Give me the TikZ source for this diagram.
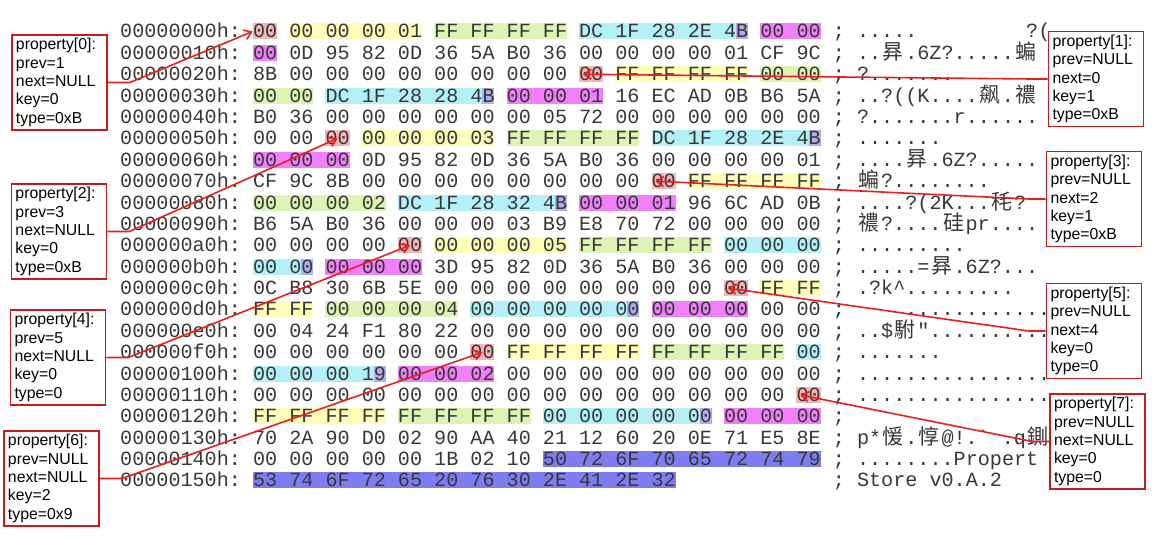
\documentclass[tikz,border=0pt]{standalone}
\usepackage{fontspec}
\setmonofont{Liberation Mono}
\newfontfamily\boxfont{Liberation Sans}
\newfontfamily\zhfont{Noto Sans CJK SC}
\usetikzlibrary{arrows.meta}
\frenchspacing

\definecolor{salmonhl}{RGB}{245,182,182}
\definecolor{yellowhl}{RGB}{255,255,185}
\definecolor{greenhl}{RGB}{220,245,180}
\definecolor{cyanhl}{RGB}{180,240,248}
\definecolor{lavhl}{RGB}{175,175,240}
\definecolor{magentahl}{RGB}{240,128,250}
\definecolor{stringhl}{RGB}{125,125,240}
\definecolor{hexgray}{RGB}{55,55,55}
\definecolor{arrowred}{RGB}{235,30,30}
\definecolor{boxred}{RGB}{205,25,25}

\tikzset{
  hexline/.style={anchor=base west, inner sep=0pt, text=hexgray,
    font=\ttfamily\fontsize{20.13}{22}\selectfont},
  salmonbyte/.style={fill=salmonhl, minimum width=24.16pt, minimum height=16pt, inner sep=0pt},
  propbox/.style={draw=boxred, line width=1.6pt, fill=white, align=left,
    text width=87pt, inner xsep=4pt, inner ysep=0pt, minimum height=95pt,
    font=\boxfont\fontsize{15.8}{18.3}\selectfont},
  redarrow/.style={draw=arrowred, line width=1.6pt, -{Straight Barb[length=7pt,width=10pt]}}
}

\newcommand\zh[1]{\hspace{1.5pt}{\zhfont\fontsize{21}{21}\selectfont #1}\hspace{1.6pt}}
% band over bytes #3..#4 of row #2
\newcommand\hl[4]{\fill[#1] ({120+12.08*(11+3*#3)},{23.5+21.38*#2}) rectangle ({120+12.08*(13+3*#4)},{39.5+21.38*#2});}
\newcommand\hlc[3]{\hl{cyanhl}{#1}{#2}{#3}%
  \fill[lavhl] ({120+12.08*(12+3*#3)},{23.5+21.38*#1}) rectangle ({120+12.08*(13+3*#3)},{39.5+21.38*#1});}
\newcommand\slot[3]{\node[salmonbyte] (#1) at ({264.96+36.24*#3},{31.5+21.38*#2}) {};}
\newcommand\hexrow[3]{\node[hexline] (r#1) at (120,{38+21.38*#1}) {#2};
  \node[hexline] (a#1) at (832.7,{38+21.38*#1}) {;~#3};}

\begin{document}
\begin{tikzpicture}[x=1pt,y=-1pt]
\useasboundingbox (0,0) rectangle (1159,543);

% property records
\hl{yellowhl}{0}{1}{4} \hl{greenhl}{0}{5}{8} \hlc{0}{9}{13} \hl{magentahl}{0}{14}{15} \hl{magentahl}{1}{0}{0}
\hl{yellowhl}{2}{10}{13} \hl{greenhl}{2}{14}{15} \hl{greenhl}{3}{0}{1} \hlc{3}{2}{6} \hl{magentahl}{3}{7}{9}
\hl{yellowhl}{5}{3}{6} \hl{greenhl}{5}{7}{10} \hlc{5}{11}{15} \hl{magentahl}{6}{0}{2}
\hl{yellowhl}{7}{12}{15} \hl{greenhl}{8}{0}{3} \hlc{8}{4}{8} \hl{magentahl}{8}{9}{11}
\hl{yellowhl}{10}{5}{8} \hl{greenhl}{10}{9}{12} \hl{cyanhl}{10}{13}{15} \hlc{11}{0}{1} \hl{magentahl}{11}{2}{4}
\hl{yellowhl}{12}{14}{15} \hl{yellowhl}{13}{0}{1} \hl{greenhl}{13}{2}{5} \hlc{13}{6}{10} \hl{magentahl}{13}{11}{13}
\hl{yellowhl}{15}{7}{10} \hl{greenhl}{15}{11}{14} \hl{cyanhl}{15}{15}{15} \hlc{16}{0}{3} \hl{magentahl}{16}{4}{6}
\hl{yellowhl}{18}{0}{3} \hl{greenhl}{18}{4}{7} \hlc{18}{8}{12} \hl{magentahl}{18}{13}{15}
\hl{stringhl}{20}{8}{15} \hl{stringhl}{21}{0}{11}

\slot{s0}{0}{0}
\slot{s1}{2}{9}
\slot{s2}{5}{2}
\slot{s3}{7}{11}
\slot{s4}{10}{4}
\slot{s5}{12}{13}
\slot{s6}{15}{6}
\slot{s7}{17}{15}

% dump
\hexrow{0}{00000000h: 00 00 00 00 01 FF FF FF FF DC 1F 28 2E 4B 00 00}{.....~~~~~~~~~?(}
\hexrow{1}{00000010h: 00 0D 95 82 0D 36 5A B0 36 00 00 00 00 01 CF 9C}{..\zh{昪}.6Z?.....\zh{蝙}}
\hexrow{2}{00000020h: 8B 00 00 00 00 00 00 00 00 00 FF FF FF FF 00 00}{?.......}
\hexrow{3}{00000030h: 00 00 DC 1F 28 28 4B 00 00 01 16 EC AD 0B B6 5A}{..?((K....\zh{飙}.\zh{禯}}
\hexrow{4}{00000040h: B0 36 00 00 00 00 00 00 05 72 00 00 00 00 00 00}{?.......r......}
\hexrow{5}{00000050h: 00 00 00 00 00 00 03 FF FF FF FF DC 1F 28 2E 4B}{.......}
\hexrow{6}{00000060h: 00 00 00 0D 95 82 0D 36 5A B0 36 00 00 00 00 01}{....\zh{昪}.6Z?.....}
\hexrow{7}{00000070h: CF 9C 8B 00 00 00 00 00 00 00 00 00 FF FF FF FF}{\zh{蝙}?........}
\hexrow{8}{00000080h: 00 00 00 02 DC 1F 28 32 4B 00 00 01 96 6C AD 0B}{....?(2K...\zh{秏}?}
\hexrow{9}{00000090h: B6 5A B0 36 00 00 00 03 B9 E8 70 72 00 00 00 00}{\zh{禯}?....\zh{硅}pr....}
\hexrow{10}{000000a0h: 00 00 00 00 00 00 00 00 05 FF FF FF FF 00 00 00}{.........}
\hexrow{11}{000000b0h: 00 00 00 00 00 3D 95 82 0D 36 5A B0 36 00 00 00}{.....=\zh{昪}.6Z?...}
\hexrow{12}{000000c0h: 0C B8 30 6B 5E 00 00 00 00 00 00 00 00 00 FF FF}{.?k\textasciicircum.........}
\hexrow{13}{000000d0h: FF FF 00 00 00 04 00 00 00 00 00 00 00 00 00 00}{~~~~............}
\hexrow{14}{000000e0h: 00 04 24 F1 80 22 00 00 00 00 00 00 00 00 00 00}{..\$\zh{駙}"..........}
\hexrow{15}{000000f0h: 00 00 00 00 00 00 00 FF FF FF FF FF FF FF FF 00}{.......}
\hexrow{16}{00000100h: 00 00 00 19 00 00 02 00 00 00 00 00 00 00 00 00}{................}
\hexrow{17}{00000110h: 00 00 00 00 00 00 00 00 00 00 00 00 00 00 00 00}{................}
\hexrow{18}{00000120h: FF FF FF FF FF FF FF FF 00 00 00 00 00 00 00 00}{}
\hexrow{19}{00000130h: 70 2A 90 D0 02 90 AA 40 21 12 60 20 0E 71 E5 8E}{p*\zh{愋}.\zh{惇}@!.`~.q\zh{鍘}}
\hexrow{20}{00000140h: 00 00 00 00 00 1B 02 10 50 72 6F 70 65 72 74 79}{........Propert}
\hexrow{21}{00000150h: 53 74 6F 72 65 20 76 30 2E 41 2E 32}{Store v0.A.2}

% boxes
\node[propbox] (p0) at (59.5,82.5) {property[0]:\\prev=1\\next=NULL\\key=0\\type=0xB};
\node[propbox] (p1) at (1096,79) {property[1]:\\prev=NULL\\next=0\\key=1\\type=0xB};
\node[propbox] (p2) at (59,231.5) {property[2]:\\prev=3\\next=NULL\\key=0\\type=0xB};
\node[propbox] (p3) at (1094,199) {property[3]:\\prev=NULL\\next=2\\key=1\\type=0xB};
\node[propbox] (p4) at (58,357.5) {property[4]:\\prev=5\\next=NULL\\key=0\\type=0};
\node[propbox] (p5) at (1094,331) {property[5]:\\prev=NULL\\next=4\\key=0\\type=0};
\node[propbox] (p6) at (51.5,478.5) {property[6]:\\prev=NULL\\next=NULL\\key=2\\type=0x9};
\node[propbox] (p7) at (1097.5,441.5) {property[7]:\\prev=NULL\\next=NULL\\key=0\\type=0};

\draw[redarrow] (p0.east) -- ([xshift=22pt]p0.east) -- (s0.west);
\draw[redarrow] (p1.west) -- ([xshift=-17pt]p1.west) -- ([xshift=4pt]s1.west);
\draw[redarrow] (p2.east) -- ([xshift=22pt]p2.east) -- (s2.center);
\draw[redarrow] (p3.west) -- ([xshift=-17pt]p3.west) -- ([xshift=4pt]s3.west);
\draw[redarrow] (p4.east) -- ([xshift=22pt]p4.east) -- (s4.center);
\draw[redarrow] (p5.west) -- ([xshift=-17pt]p5.west) -- ([xshift=4pt]s5.west);
\draw[redarrow] (p6.east) -- ([xshift=22pt]p6.east) -- (s6.center);
\draw[redarrow] (p7.west) -- ([xshift=-17pt]p7.west) -- ([xshift=4pt]s7.west);
\end{tikzpicture}
\end{document}
